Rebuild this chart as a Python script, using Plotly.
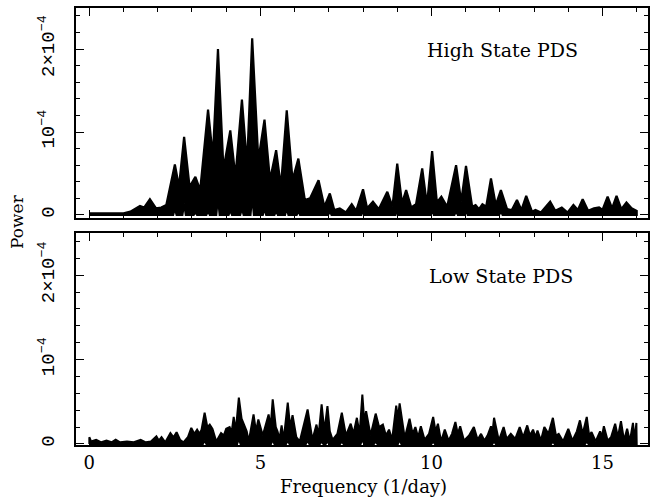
import plotly.graph_objects as go

# ---------------- data (power in units of 1e-4) ----------------
HIGH_FREQ = [0.0, 1.0, 1.2, 1.35, 1.48, 1.6, 1.77, 1.95, 2.1, 2.25, 2.35, 2.50, 2.62, 2.77, 2.93,
             3.10, 3.24, 3.47, 3.61, 3.76, 3.92, 4.12, 4.27, 4.46, 4.61, 4.76, 4.94, 5.12, 5.28,
             5.46, 5.60, 5.77, 5.94, 6.11, 6.30, 6.45, 6.70, 6.87, 7.03, 7.16, 7.32, 7.50, 7.67,
             7.80, 8.00, 8.12, 8.29, 8.46, 8.71, 8.86, 9.00, 9.14, 9.26, 9.41, 9.55, 9.73, 9.87,
             10.02, 10.16, 10.29, 10.46, 10.72, 10.87, 11.01, 11.19, 11.29, 11.39, 11.49, 11.60,
             11.74, 11.88, 12.03, 12.21, 12.35, 12.50, 12.63, 12.77, 12.94, 13.04, 13.20, 13.47,
             13.62, 13.81, 13.98, 14.15, 14.28, 14.42, 14.58, 14.75, 14.90, 15.00, 15.15, 15.28,
             15.41, 15.55, 15.70, 15.85, 16.0]
HIGH_POWER = [0.02, 0.02, 0.04, 0.08, 0.11, 0.09, 0.19, 0.08, 0.09, 0.12, 0.30, 0.61, 0.34, 0.94, 0.34,
              0.46, 0.30, 1.27, 0.70, 2.00, 0.55, 1.02, 0.46, 1.39, 0.60, 2.13, 0.66, 1.15, 0.42,
              0.78, 0.34, 1.26, 0.42, 0.68, 0.18, 0.20, 0.42, 0.10, 0.26, 0.06, 0.08, 0.03, 0.13,
              0.05, 0.31, 0.08, 0.16, 0.07, 0.28, 0.10, 0.62, 0.14, 0.30, 0.09, 0.13, 0.56, 0.12,
              0.77, 0.15, 0.22, 0.10, 0.60, 0.16, 0.59, 0.10, 0.12, 0.07, 0.13, 0.10,
              0.44, 0.12, 0.30, 0.07, 0.06, 0.18, 0.06, 0.23, 0.04, 0.06, 0.03, 0.16,
              0.05, 0.09, 0.03, 0.12, 0.06, 0.19, 0.05, 0.08, 0.09, 0.06, 0.22, 0.08,
              0.23, 0.07, 0.15, 0.08, 0.05]
# minimum of the oscillation under the strongest peaks (white notches)
HIGH_MIN_FREQ = [2.50, 2.77, 3.10, 3.47, 3.76, 4.12, 4.46, 4.76, 5.12, 5.46, 5.77, 6.11,
                 7.03, 8.00, 9.00, 10.02, 10.72, 11.01, 12.03]
HIGH_MIN_POWER = [0.08, 0.14, 0.04, 0.05, 0.22, 0.06, 0.08, 0.24, 0.08, 0.05, 0.08, 0.05,
                  0.05, 0.05, 0.07, 0.07, 0.05, 0.06, 0.05]

LOW_FREQ = [0.0, 0.0, 0.05, 0.2, 0.35, 0.5, 0.65, 0.77, 0.9, 1.1, 1.3, 1.5, 1.65, 1.8, 1.96, 2.03,
            2.11, 2.22, 2.37, 2.46, 2.55, 2.65, 2.75, 2.88, 2.98, 3.07, 3.15, 3.22, 3.28, 3.37,
            3.45, 3.52, 3.60, 3.71, 3.85, 3.93, 4.0, 4.1, 4.16, 4.22, 4.28, 4.37, 4.45, 4.5, 4.6,
            4.66, 4.80, 4.87, 4.94, 5.07, 5.24, 5.30, 5.36, 5.45, 5.5, 5.56, 5.62, 5.68, 5.80,
            5.87, 5.94, 6.05, 6.15, 6.38, 6.52, 6.64, 6.70, 6.79, 6.87, 6.96, 7.03, 7.11, 7.25,
            7.38, 7.50, 7.64, 7.72, 7.82, 7.90, 7.98, 8.04, 8.09, 8.22, 8.37, 8.47, 8.58, 8.67,
            8.76, 8.85, 8.97, 9.02, 9.07, 9.22, 9.36, 9.45, 9.53, 9.61, 9.69, 9.80, 9.93, 10.05,
            10.12, 10.19, 10.28, 10.39, 10.5, 10.60, 10.70, 10.77, 10.84, 10.95, 11.1, 11.24,
            11.35, 11.45, 11.55, 11.64, 11.74, 11.78, 11.83, 11.97, 12.11, 12.2, 12.32, 12.45,
            12.58, 12.68, 12.8, 12.88, 12.97, 13.04, 13.1, 13.2, 13.3, 13.42, 13.55, 13.64,
            13.72, 13.85, 14.0, 14.12, 14.25, 14.34, 14.42, 14.54, 14.61, 14.68, 14.8, 14.93,
            14.98, 15.04, 15.15, 15.25, 15.37, 15.45, 15.54, 15.63, 15.72, 15.8, 15.89, 15.94,
            15.99, 16.0]
LOW_POWER = [0.0, 0.08, 0.03, 0.05, 0.02, 0.04, 0.02, 0.05, 0.02, 0.03, 0.02, 0.05, 0.02, 0.03, 0.09, 0.04,
             0.08, 0.02, 0.13, 0.08, 0.14, 0.05, 0.02, 0.08, 0.19, 0.12, 0.17, 0.12, 0.17, 0.37,
             0.20, 0.23, 0.18, 0.03, 0.13, 0.10, 0.18, 0.20, 0.14, 0.32, 0.15, 0.55, 0.30, 0.25, 0.15,
             0.03, 0.35, 0.15, 0.29, 0.10, 0.35, 0.20, 0.53, 0.20, 0.15, 0.06, 0.22, 0.05, 0.49,
             0.20, 0.34, 0.08, 0.03, 0.41, 0.05, 0.23, 0.10, 0.47, 0.15, 0.45, 0.15, 0.05, 0.12,
             0.37, 0.10, 0.24, 0.12, 0.31, 0.12, 0.585, 0.25, 0.39, 0.10, 0.36, 0.20, 0.23, 0.10,
             0.17, 0.05, 0.455, 0.30, 0.48, 0.07, 0.30, 0.12, 0.20, 0.08, 0.21, 0.05, 0.12, 0.32,
             0.15, 0.24, 0.03, 0.17, 0.04, 0.12, 0.26, 0.12, 0.21, 0.04, 0.10, 0.20,
             0.05, 0.12, 0.04, 0.10, 0.21, 0.12, 0.31, 0.04, 0.20, 0.06, 0.12, 0.06,
             0.20, 0.08, 0.22, 0.10, 0.17, 0.08, 0.16, 0.04, 0.20, 0.12, 0.31, 0.10,
             0.12, 0.03, 0.18, 0.04, 0.15, 0.28, 0.12, 0.32, 0.10, 0.14, 0.03, 0.15,
             0.08, 0.21, 0.04, 0.08, 0.24, 0.08, 0.27, 0.04, 0.18, 0.03, 0.25, 0.05,
             0.25, 0.02]
LOW_MIN_FREQ = [3.37, 4.37, 5.36, 5.80, 6.38, 6.79, 6.96, 7.38, 7.98, 8.37, 9.07, 10.05, 11.83, 13.55, 14.54]
LOW_MIN_POWER = [0.04, 0.06, 0.05, 0.04, 0.04, 0.03, 0.03, 0.03, 0.06, 0.03, 0.05, 0.03, 0.03, 0.03, 0.03]

Y_TICKVALS = [0, 1, 2]
Y_TICKTEXT = ["0", "10<sup>\u22124</sup>", "2\u00d710<sup>\u22124</sup>"]
X_TICKVALS = [0, 5, 10, 15]

NOTCH_HALF = 0.05


def band(freq, power, min_freq, min_power):
    """Closed outline: upper envelope left->right, lower envelope right->left."""
    lo_x, lo_y = [freq[0]], [0.0]
    for f, h in zip(min_freq, min_power):
        lo_x += [f - NOTCH_HALF, f, f + NOTCH_HALF]
        lo_y += [0.0, h, 0.0]
    lo_x.append(freq[-1])
    lo_y.append(0.0)
    xs = list(freq) + lo_x[::-1]
    ys = list(power) + lo_y[::-1]
    return xs, ys


fig = go.Figure()

hx, hy = band(HIGH_FREQ, HIGH_POWER, HIGH_MIN_FREQ, HIGH_MIN_POWER)
fig.add_trace(go.Scatter(x=hx, y=hy, mode="lines", fill="toself", fillcolor="black",
                         line=dict(color="black", width=2.2), xaxis="x2", yaxis="y2",
                         hoverinfo="skip", showlegend=False))
lx, ly = band(LOW_FREQ, LOW_POWER, LOW_MIN_FREQ, LOW_MIN_POWER)
fig.add_trace(go.Scatter(x=lx, y=ly, mode="lines", fill="toself", fillcolor="black",
                         line=dict(color="black", width=2.0), xaxis="x", yaxis="y",
                         hoverinfo="skip", showlegend=False))

XR = [-0.39, 16.33]
serif = "DejaVu Serif"
mono = "Liberation Mono"

common_x = dict(range=XR, showline=True, linecolor="black", linewidth=1.6, mirror="allticks",
                ticks="inside", ticklen=8, tickwidth=1.2, tickcolor="black",
                tickvals=X_TICKVALS, showgrid=False, zeroline=False,
                minor=dict(dtick=1, tick0=0, ticks="inside", ticklen=4, tickwidth=1.1, tickcolor="black"))
common_y = dict(showline=True, linecolor="black", linewidth=1.6, mirror="allticks",
                ticks="inside", ticklen=8, tickwidth=1.2, tickcolor="black",
                tickvals=Y_TICKVALS, ticktext=Y_TICKTEXT, tickangle=-90,
                tickfont=dict(family=mono, size=19, color="black"), ticklabelstandoff=13,
                showgrid=False, zeroline=False,
                minor=dict(dtick=0.2, tick0=0, ticks="inside", ticklen=4.5, tickwidth=1.1, tickcolor="black"))

fig.update_layout(
    width=650, height=499,
    margin=dict(l=76, r=0, t=8, b=54),
    paper_bgcolor="white", plot_bgcolor="white",
    xaxis=dict(common_x, anchor="y", domain=[0, 1],
               tickfont=dict(family=serif, size=18, color="black"), ticklabelstandoff=1),
    yaxis=dict(common_y, anchor="x", domain=[0, 0.4851], range=[-0.012, 2.5]),
    xaxis2=dict(common_x, anchor="y2", domain=[0, 1], showticklabels=False),
    yaxis2=dict(common_y, anchor="x2", domain=[0.5195, 1], range=[-0.036, 2.494]),
    annotations=[
        dict(text="High State PDS", x=14.35, y=1.99, xref="x2", yref="y2", xanchor="right",
             yanchor="middle", showarrow=False, font=dict(family=serif, size=19, color="black")),
        dict(text="Low State PDS", x=14.2, y=1.99, xref="x", yref="y", xanchor="right",
             yanchor="middle", showarrow=False, font=dict(family=serif, size=19, color="black")),
        dict(text="Power", x=-0.1045, y=0.511, xref="paper", yref="paper", textangle=-90,
             xanchor="center", yanchor="middle", showarrow=False,
             font=dict(family=serif, size=17, color="black")),
        dict(text="Frequency (1/day)", x=0.5026, y=-0.0961, xref="paper", yref="paper",
             xanchor="center", yanchor="middle", showarrow=False,
             font=dict(family=serif, size=18, color="black")),
    ],
)

fig.write_html("out.html")
